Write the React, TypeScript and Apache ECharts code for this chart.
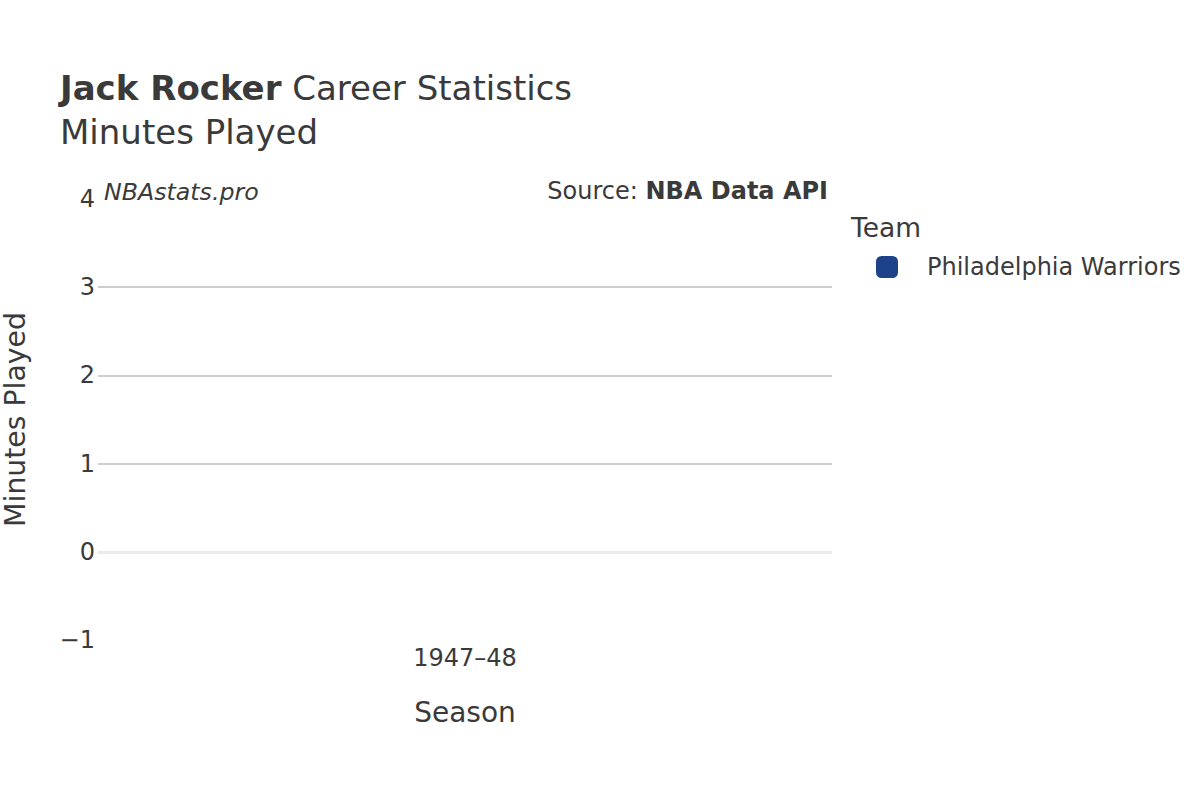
import React, { useEffect, useRef } from "react";
import * as echarts from "echarts";

const seasons: string[] = ["1947–48"];
const teamName = "Philadelphia Warriors";
const minutesPlayed: number[] = [0];
const yTicks = { min: -1, max: 4, interval: 1 };

const FONT = "DejaVu Sans";
const TEXT = "#3a3a3a";
const TEAM_COLOR = "#1d428a";

export default function App() {
  const ref = useRef<HTMLDivElement>(null);

  useEffect(() => {
    if (!ref.current) return;
    const chart = echarts.init(ref.current, null, { renderer: "svg" });
    chart.setOption({
      animation: false,
      backgroundColor: "#ffffff",
      textStyle: { fontFamily: FONT, color: TEXT },
      grid: {
        left: 98,
        right: 368,
        top: 199,
        bottom: 160,
        containLabel: false,
        outerBoundsMode: "none",
      },
      legend: {
        left: 876,
        top: 255,
        padding: 0,
        orient: "vertical",
        icon: "roundRect",
        itemWidth: 22,
        itemHeight: 22,
        textStyle: { fontFamily: FONT, fontSize: 24, color: TEXT, padding: [0, 0, 0, 24] },
        data: [teamName],
        selectedMode: false,
      },
      xAxis: {
        type: "category",
        data: seasons,
        boundaryGap: true,
        axisLine: { show: false, onZero: false },
        axisTick: { show: false },
        axisLabel: { fontFamily: FONT, fontSize: 24, color: TEXT, margin: 6 },
        name: "Season",
        nameLocation: "middle",
        nameGap: 58,
        nameTextStyle: { fontFamily: FONT, fontSize: 28, color: TEXT },
        splitLine: { show: false },
      },
      yAxis: {
        type: "value",
        min: yTicks.min,
        max: yTicks.max,
        interval: yTicks.interval,
        axisLine: { show: false },
        axisTick: { show: false },
        axisLabel: {
          fontFamily: FONT,
          fontSize: 24,
          color: TEXT,
          margin: 3,
          formatter: (v: number) => (v < 0 ? "\u2212" + Math.abs(v) : String(v)),
        },
        name: "Minutes Played",
        nameLocation: "middle",
        nameGap: 69,
        nameTextStyle: { fontFamily: FONT, fontSize: 28.3, color: TEXT },
        splitLine: {
          show: true,
          lineStyle: {
            width: 1.5,
            color: ["transparent", "transparent", "#bdbdbd", "#bdbdbd", "#bdbdbd", "transparent"],
          },
        },
      },
      series: [
        {
          name: teamName,
          type: "bar",
          data: minutesPlayed,
          itemStyle: { color: TEAM_COLOR },
          barWidth: "80%",
          markLine: {
            silent: true,
            symbol: "none",
            label: { show: false },
            lineStyle: { color: "#ebebeb", width: 3, type: "solid" },
            data: [{ yAxis: 0 }],
          },
        },
      ],
      graphic: [
        {
          type: "text",
          left: 60,
          top: 71,
          style: {
            text: "{b|Jack Rocker}{r| Career Statistics}",
            rich: {
              b: { fontFamily: FONT, fontSize: 34, fontWeight: "bold", fill: TEXT, color: TEXT },
              r: { fontFamily: FONT, fontSize: 34, fill: TEXT, color: TEXT },
            },
          },
        },
        {
          type: "text",
          x: 60,
          y: 132,
          style: {
            text: "Minutes Played",
            font: `34px '${FONT}'`,
            fill: TEXT,
            textVerticalAlign: "middle",
          },
        },
        {
          type: "text",
          x: 104,
          y: 192,
          style: {
            text: "NBAstats.pro",
            font: `italic 23.7px '${FONT}'`,
            fill: TEXT,
            textVerticalAlign: "middle",
          },
        },
        {
          type: "text",
          right: 372,
          top: 179,
          style: {
            text: "{r|Source: }{b|NBA Data API}",
            rich: {
              r: { fontFamily: FONT, fontSize: 24, fill: TEXT, color: TEXT },
              b: { fontFamily: FONT, fontSize: 24, fontWeight: "bold", fill: TEXT, color: TEXT },
            },
          },
        },
        {
          type: "text",
          x: 851,
          y: 227,
          style: {
            text: "Team",
            font: `26.5px '${FONT}'`,
            fill: TEXT,
            textVerticalAlign: "middle",
          },
        },
      ],
    });
    return () => chart.dispose();
  }, []);

  return (
    <div
      ref={ref}
      style={{ position: "fixed", left: 0, top: 0, width: 1200, height: 800, background: "#fff" }}
    />
  );
}
